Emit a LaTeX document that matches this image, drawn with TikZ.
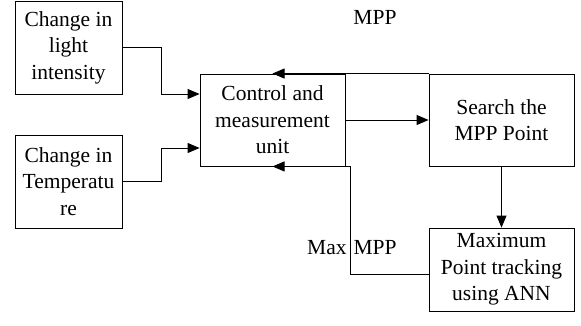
\documentclass[tikz,border=0pt]{standalone}
\usepackage{fontspec}
\setmainfont{Liberation Serif}
\usetikzlibrary{arrows.meta}
\begin{document}
\begin{tikzpicture}[x=1pt,y=-1pt,
  box/.style={draw, line width=0.9pt, inner sep=0pt, align=center, font=\fontsize{21.5}{26.5}\selectfont},
  lbl/.style={inner sep=0pt, font=\fontsize{21.5}{26.5}\selectfont},
  arr/.style={line width=0.9pt, -{Triangle[length=12pt,width=10pt]}}]
\useasboundingbox[fill=white] (0,0) rectangle (581,326);
\node[box, minimum width=107pt, minimum height=93pt] (b1) at (68.5,47.5) {Change in\\light\\intensity};
\node[box, minimum width=107pt, minimum height=93pt] (b2) at (68.5,181.5) {Change in\\Temperatu\\re};
\node[box, minimum width=145pt, minimum height=92pt] (ctrl) at (272.5,120) {Control and\\measurement\\unit};
\node[box, minimum width=145pt, minimum height=92pt] (search) at (501.5,120) {Search the\\MPP Point};
\node[box, minimum width=145pt, minimum height=83pt] (max) at (501.5,269.5) {Maximum\\Point tracking\\using ANN};
\node[lbl] (mpp) at (375,17) {MPP};
\node[lbl, anchor=west] (maxmpp) at (307,248) {Max\hspace{7pt}MPP};
\draw[arr] (b1.east) -- ++(39,0) |- ([yshift=26pt]ctrl.west);
\draw[arr] (b2.east) -- ++(39,0) |- ([yshift=-28pt]ctrl.west);
\draw[arr] (ctrl.east) -- (search.west);
\draw[arr] (search.south) -- (max.north);
\draw[arr] (search.north west) -- (ctrl.north);
\draw[arr] ([yshift=-4.5pt]max.west) -- ++(-78,0) |- (ctrl.south);
\end{tikzpicture}
\end{document}
